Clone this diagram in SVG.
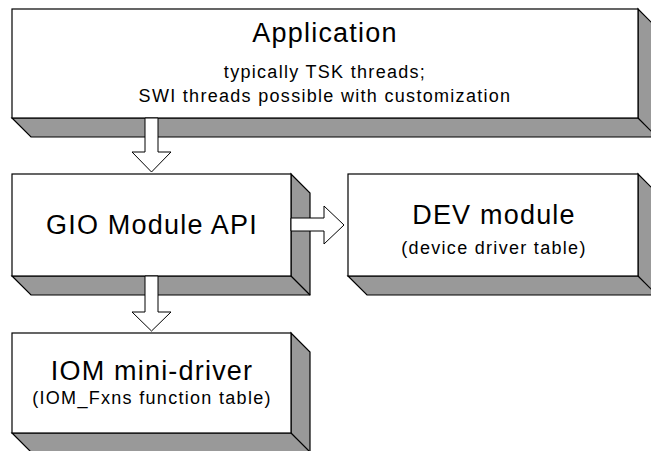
<svg xmlns="http://www.w3.org/2000/svg" width="651" height="451" viewBox="0 0 651 451">
  <style>
    .front { fill: #ffffff; stroke: #000000; stroke-width: 1.2; }
    .side { fill: #999999; stroke: #000000; stroke-width: 1.2; stroke-linejoin: miter; }
    .arrow { fill: #ffffff; stroke: #000000; stroke-width: 1; stroke-linejoin: miter; }
    text { font-family: "Liberation Sans", Arial, sans-serif; fill: #000000; text-anchor: middle; }
    .title { font-size: 27px; letter-spacing: 1.2px; }
    .sub { font-size: 18px; letter-spacing: 1.3px; }
  </style>
  <rect width="651" height="451" fill="#ffffff"/>

  <g id="application">
    <polygon class="side" points="12,118 31,137 657,137 657,28 638,9 638,118"/>
    <line class="side" x1="638" y1="118" x2="657" y2="137"/>
    <rect class="front" x="12" y="9" width="626" height="109"/>
    <text class="title" x="325" y="42">Application</text>
    <text class="sub" x="325" y="78">typically TSK threads;</text>
    <text class="sub" x="325" y="102">SWI threads possible with customization</text>
  </g>

  <g id="gio">
    <polygon class="side" points="12,276 31,295 310,295 310,193 291,174 291,276"/>
    <line class="side" x1="291" y1="276" x2="310" y2="295"/>
    <rect class="front" x="12" y="174" width="279" height="102"/>
    <text class="title" x="152" y="234">GIO Module API</text>
  </g>

  <g id="dev">
    <polygon class="side" points="348,276 367,295 657,295 657,193 638,174 638,276"/>
    <line class="side" x1="638" y1="276" x2="657" y2="295"/>
    <rect class="front" x="348" y="174" width="290" height="102"/>
    <text class="title" x="494" y="224">DEV module</text>
    <text class="sub" x="494" y="254">(device driver table)</text>
  </g>

  <g id="iom">
    <polygon class="side" points="12,433 31,452 310,452 310,352 291,333 291,433"/>
    <line class="side" x1="291" y1="433" x2="310" y2="452"/>
    <rect class="front" x="12" y="333" width="279" height="100"/>
    <text class="title" x="152" y="380">IOM mini-driver</text>
    <text class="sub" x="152" y="404">(IOM_Fxns function table)</text>
  </g>

  <g id="connectors">
    <polygon class="arrow" points="145,118 158,118 158,152 171,152 151.5,172 132,152 145,152"/>
    <polygon class="arrow" points="291,218 324,218 324,206 344,225 324,244 324,231 291,231"/>
    <polygon class="arrow" points="145,276 158,276 158,312 171,312 151.5,331 132,312 145,312"/>
  </g>
</svg>
